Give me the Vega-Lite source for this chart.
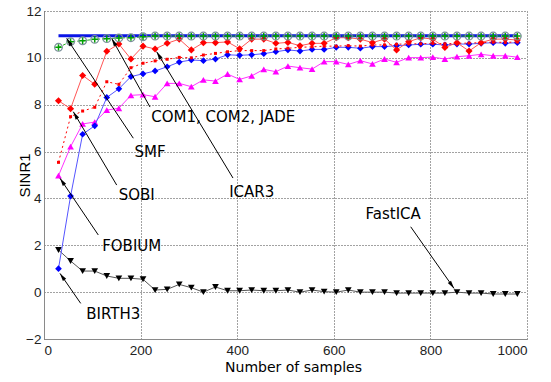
{
  "$schema": "https://vega.github.io/schema/vega-lite/v6.json",
  "width": 483,
  "height": 328,
  "autosize": {"type": "none"},
  "padding": {"left": 44, "top": 11, "right": 24, "bottom": 43},
  "background": "white",
  "config": {
    "view": {"stroke": null},
    "axis": {
      "grid": true,
      "gridDash": [1, 2],
      "gridColor": "#444444",
      "gridOpacity": 1,
      "domainColor": "#8a8a8a",
      "domainWidth": 1,
      "ticks": false,
      "labelFont": "Liberation Sans",
      "labelFontSize": 13.5,
      "labelColor": "#222222"
    }
  },
  "datasets": {
    "series": [
      {"x": 30, "thick": 10.94, "green": 10.45, "red": 8.17, "redd": 5.54, "blue": 1.0, "mag": 4.97, "blk": 1.8},
      {"x": 55, "thick": 10.94, "green": 10.69, "red": 7.83, "redd": 7.49, "blue": 4.1, "mag": 6.21, "blk": 1.33},
      {"x": 80, "thick": 10.94, "green": 10.73, "red": 9.25, "redd": 7.73, "blue": 6.74, "mag": 7.18, "blk": 0.9},
      {"x": 105, "thick": 10.94, "green": 10.79, "red": 8.87, "redd": 7.89, "blue": 7.1, "mag": 7.26, "blk": 0.9},
      {"x": 130, "thick": 10.94, "green": 10.82, "red": 10.28, "redd": 8.98, "blue": 8.31, "mag": 7.77, "blk": 0.69},
      {"x": 155, "thick": 10.94, "green": 10.85, "red": 10.59, "redd": 8.87, "blue": 8.68, "mag": 7.85, "blk": 0.59},
      {"x": 180, "thick": 10.94, "green": 10.86, "red": 9.95, "redd": 9.58, "blue": 9.2, "mag": 8.4, "blk": 0.59},
      {"x": 205, "thick": 10.94, "green": 10.9, "red": 10.5, "redd": 9.77, "blue": 9.32, "mag": 8.43, "blk": 0.55},
      {"x": 230, "thick": 10.94, "green": 10.93, "red": 10.38, "redd": 9.87, "blue": 9.44, "mag": 8.34, "blk": 0.09},
      {"x": 255, "thick": 10.94, "green": 10.93, "red": 10.62, "redd": 9.94, "blue": 9.62, "mag": 8.91, "blk": 0.12},
      {"x": 280, "thick": 10.94, "green": 10.93, "red": 10.8, "redd": 10.02, "blue": 9.82, "mag": 8.91, "blk": 0.33},
      {"x": 305, "thick": 10.94, "green": 10.93, "red": 10.34, "redd": 10.0, "blue": 9.91, "mag": 8.77, "blk": 0.19},
      {"x": 330, "thick": 10.94, "green": 10.93, "red": 10.65, "redd": 10.12, "blue": 9.88, "mag": 9.06, "blk": 0.0},
      {"x": 355, "thick": 10.94, "green": 10.93, "red": 10.65, "redd": 10.19, "blue": 9.95, "mag": 9.01, "blk": 0.22},
      {"x": 380, "thick": 10.94, "green": 10.93, "red": 10.68, "redd": 10.26, "blue": 10.13, "mag": 9.31, "blk": 0.06},
      {"x": 405, "thick": 10.94, "green": 10.93, "red": 10.39, "redd": 10.31, "blue": 10.11, "mag": 9.08, "blk": 0.06},
      {"x": 430, "thick": 10.94, "green": 10.93, "red": 10.8, "redd": 10.31, "blue": 10.13, "mag": 9.23, "blk": 0.09},
      {"x": 455, "thick": 10.94, "green": 10.93, "red": 10.8, "redd": 10.31, "blue": 10.18, "mag": 9.51, "blk": 0.06},
      {"x": 480, "thick": 10.94, "green": 10.93, "red": 10.62, "redd": 10.38, "blue": 10.26, "mag": 9.41, "blk": 0.06},
      {"x": 505, "thick": 10.94, "green": 10.93, "red": 10.66, "redd": 10.41, "blue": 10.34, "mag": 9.65, "blk": 0.09},
      {"x": 530, "thick": 10.94, "green": 10.93, "red": 10.52, "redd": 10.45, "blue": 10.29, "mag": 9.58, "blk": 0.0},
      {"x": 555, "thick": 10.94, "green": 10.93, "red": 10.62, "redd": 10.47, "blue": 10.36, "mag": 9.52, "blk": 0.09},
      {"x": 580, "thick": 10.94, "green": 10.93, "red": 10.62, "redd": 10.5, "blue": 10.36, "mag": 9.84, "blk": 0.02},
      {"x": 605, "thick": 10.94, "green": 10.93, "red": 10.86, "redd": 10.5, "blue": 10.45, "mag": 9.84, "blk": 0.0},
      {"x": 630, "thick": 10.94, "green": 10.93, "red": 10.86, "redd": 10.52, "blue": 10.45, "mag": 9.72, "blk": 0.09},
      {"x": 655, "thick": 10.94, "green": 10.93, "red": 10.8, "redd": 10.5, "blue": 10.41, "mag": 9.88, "blk": 0.0},
      {"x": 680, "thick": 10.94, "green": 10.93, "red": 10.65, "redd": 10.55, "blue": 10.48, "mag": 9.74, "blk": 0.0},
      {"x": 705, "thick": 10.94, "green": 10.93, "red": 10.8, "redd": 10.55, "blue": 10.48, "mag": 9.95, "blk": 0.0},
      {"x": 730, "thick": 10.94, "green": 10.93, "red": 10.34, "redd": 10.58, "blue": 10.52, "mag": 9.81, "blk": -0.04},
      {"x": 755, "thick": 10.94, "green": 10.93, "red": 10.69, "redd": 10.6, "blue": 10.55, "mag": 10.01, "blk": -0.04},
      {"x": 780, "thick": 10.94, "green": 10.93, "red": 10.86, "redd": 10.6, "blue": 10.58, "mag": 10.01, "blk": -0.04},
      {"x": 805, "thick": 10.94, "green": 10.93, "red": 10.8, "redd": 10.62, "blue": 10.58, "mag": 10.03, "blk": -0.04},
      {"x": 830, "thick": 10.94, "green": 10.93, "red": 10.44, "redd": 10.6, "blue": 10.55, "mag": 9.95, "blk": -0.04},
      {"x": 855, "thick": 10.94, "green": 10.93, "red": 10.65, "redd": 10.62, "blue": 10.59, "mag": 10.05, "blk": 0.0},
      {"x": 880, "thick": 10.94, "green": 10.93, "red": 10.29, "redd": 10.63, "blue": 10.59, "mag": 10.09, "blk": -0.04},
      {"x": 905, "thick": 10.94, "green": 10.93, "red": 10.65, "redd": 10.65, "blue": 10.62, "mag": 10.15, "blk": -0.04},
      {"x": 930, "thick": 10.94, "green": 10.93, "red": 10.8, "redd": 10.67, "blue": 10.65, "mag": 10.09, "blk": -0.08},
      {"x": 955, "thick": 10.94, "green": 10.93, "red": 10.8, "redd": 10.66, "blue": 10.62, "mag": 10.09, "blk": -0.08},
      {"x": 980, "thick": 10.94, "green": 10.93, "red": 10.76, "redd": 10.68, "blue": 10.65, "mag": 10.03, "blk": -0.08}
    ],
    "notes": [
      {"label": "COM1, COM2, JADE", "tx": 371, "ty": 7.49, "x0": 219.5, "y0": 7.9, "x1": 140.2, "y1": 10.83},
      {"label": "SMF", "tx": 219.5, "ty": 6.0, "x0": 184.9, "y0": 6.57, "x1": 47, "y1": 10.83},
      {"label": "ICAR3", "tx": 430, "ty": 4.26, "x0": 391.3, "y0": 4.87, "x1": 233.3, "y1": 10.26},
      {"label": "SOBI", "tx": 192, "ty": 4.15, "x0": 150.5, "y0": 4.57, "x1": 60.7, "y1": 7.7},
      {"label": "FOBIUM", "tx": 181.6, "ty": 1.97, "x0": 112.4, "y0": 2.44, "x1": 33.1, "y1": 4.86},
      {"label": "BIRTH3", "tx": 143.5, "ty": -0.93, "x0": 76, "y0": -0.48, "x1": 33.1, "y1": 0.8},
      {"label": "FastICA", "tx": 723, "ty": 3.34, "x0": 759.2, "y0": 2.79, "x1": 848.9, "y1": 0.16}
    ]
  },
  "layer": [
    {
      "data": {"name": "series"},
      "mark": {"type": "line", "color": "#555555", "strokeWidth": 1,
               "point": {"shape": "triangle-down", "size": 45, "filled": true, "color": "#000000"}},
      "encoding": {
        "x": {"field": "x", "type": "quantitative", "scale": {"domain": [0, 1000], "nice": false},
              "axis": {"values": [0, 200, 400, 600, 800, 1000], "format": "d", "labelPadding": 4, "title": "Number of samples",
                       "titleFont": "DejaVu Sans", "titleFontSize": 14, "titleFontWeight": "normal", "titleColor": "#000000",
                       "titleX": 249, "titleY": 28, "titleBaseline": "middle"}},
        "y": {"field": "blk", "type": "quantitative", "scale": {"domain": [-2, 12], "nice": false},
              "axis": {"values": [-2, 0, 2, 4, 6, 8, 10, 12], "labelPadding": 3, "title": "SINR1",
                       "titleFont": "Liberation Sans", "titleFontSize": 15, "titleFontWeight": "normal", "titleColor": "#000000",
                       "titleX": -20, "titleY": 164, "titleAngle": -90, "titleAlign": "center", "titleBaseline": "middle"}}
      }
    },
    {
      "data": {"name": "series"},
      "mark": {"type": "line", "color": "#ff33ff", "strokeWidth": 1,
               "point": {"shape": "triangle-up", "size": 45, "filled": true, "color": "#ff00ff"}},
      "encoding": {
        "x": {"field": "x", "type": "quantitative", "scale": {"domain": [0, 1000], "nice": false}},
        "y": {"field": "mag", "type": "quantitative", "scale": {"domain": [-2, 12], "nice": false}}
      }
    },
    {
      "data": {"name": "series"},
      "mark": {"type": "line", "color": "#5555ff", "strokeWidth": 1,
               "point": {"shape": "diamond", "size": 45, "filled": true, "color": "#0000ff"}},
      "encoding": {
        "x": {"field": "x", "type": "quantitative", "scale": {"domain": [0, 1000], "nice": false}},
        "y": {"field": "blue", "type": "quantitative", "scale": {"domain": [-2, 12], "nice": false}}
      }
    },
    {
      "data": {"name": "series"},
      "mark": {"type": "line", "color": "#ff0000", "strokeWidth": 1, "strokeDash": [2, 3],
               "point": {"shape": "square", "size": 9, "filled": true, "color": "#ff0000"}},
      "encoding": {
        "x": {"field": "x", "type": "quantitative", "scale": {"domain": [0, 1000], "nice": false}},
        "y": {"field": "redd", "type": "quantitative", "scale": {"domain": [-2, 12], "nice": false}}
      }
    },
    {
      "data": {"name": "series"},
      "mark": {"type": "line", "color": "#ff5555", "strokeWidth": 1,
               "point": {"shape": "diamond", "size": 50, "filled": true, "color": "#ff0000"}},
      "encoding": {
        "x": {"field": "x", "type": "quantitative", "scale": {"domain": [0, 1000], "nice": false}},
        "y": {"field": "red", "type": "quantitative", "scale": {"domain": [-2, 12], "nice": false}}
      }
    },
    {
      "data": {"name": "series"},
      "mark": {"type": "line", "color": "#0a14e6", "strokeWidth": 3},
      "encoding": {
        "x": {"field": "x", "type": "quantitative", "scale": {"domain": [0, 1000], "nice": false}},
        "y": {"field": "thick", "type": "quantitative", "scale": {"domain": [-2, 12], "nice": false}}
      }
    },
    {
      "data": {"name": "series"},
      "mark": {"type": "line", "color": "#22aa22", "strokeWidth": 1, "strokeDash": [3, 2]},
      "encoding": {
        "x": {"field": "x", "type": "quantitative", "scale": {"domain": [0, 1000], "nice": false}},
        "y": {"field": "green", "type": "quantitative", "scale": {"domain": [-2, 12], "nice": false}}
      }
    },
    {
      "data": {"name": "series"},
      "mark": {"type": "point", "shape": "circle", "size": 60, "filled": false, "stroke": "#7a8f9a", "strokeWidth": 1.2, "opacity": 1},
      "encoding": {
        "x": {"field": "x", "type": "quantitative", "scale": {"domain": [0, 1000], "nice": false}},
        "y": {"field": "green", "type": "quantitative", "scale": {"domain": [-2, 12], "nice": false}}
      }
    },
    {
      "data": {"name": "series"},
      "mark": {"type": "point", "shape": "M-1,0L1,0M0,-1L0,1", "size": 40, "filled": false, "stroke": "#00a000", "strokeWidth": 1.5, "opacity": 1},
      "encoding": {
        "x": {"field": "x", "type": "quantitative", "scale": {"domain": [0, 1000], "nice": false}},
        "y": {"field": "green", "type": "quantitative", "scale": {"domain": [-2, 12], "nice": false}}
      }
    },
    {
      "data": {"name": "notes"},
      "mark": {"type": "rule", "color": "#000000", "strokeWidth": 1},
      "encoding": {
        "x": {"field": "x0", "type": "quantitative", "scale": {"domain": [0, 1000], "nice": false}},
        "y": {"field": "y0", "type": "quantitative", "scale": {"domain": [-2, 12], "nice": false}},
        "x2": {"field": "x1"},
        "y2": {"field": "y1"}
      }
    },
    {
      "data": {"name": "notes"},
      "transform": [
        {"calculate": "atan2((datum.x1 - datum.x0) * 0.483, (datum.y1 - datum.y0) * 23.43) * 180 / PI", "as": "ang"}
      ],
      "mark": {"type": "point", "shape": "M0,0L-0.5,2L0.5,2Z", "size": 64, "filled": true, "color": "#000000", "opacity": 1},
      "encoding": {
        "x": {"field": "x1", "type": "quantitative", "scale": {"domain": [0, 1000], "nice": false}},
        "y": {"field": "y1", "type": "quantitative", "scale": {"domain": [-2, 12], "nice": false}},
        "angle": {"field": "ang", "type": "quantitative", "scale": null}
      }
    },
    {
      "data": {"name": "notes"},
      "mark": {"type": "text", "font": "DejaVu Sans", "fontSize": 15, "color": "#000000", "align": "center", "baseline": "middle"},
      "encoding": {
        "x": {"field": "tx", "type": "quantitative", "scale": {"domain": [0, 1000], "nice": false}},
        "y": {"field": "ty", "type": "quantitative", "scale": {"domain": [-2, 12], "nice": false}},
        "text": {"field": "label"}
      }
    }
  ]
}
